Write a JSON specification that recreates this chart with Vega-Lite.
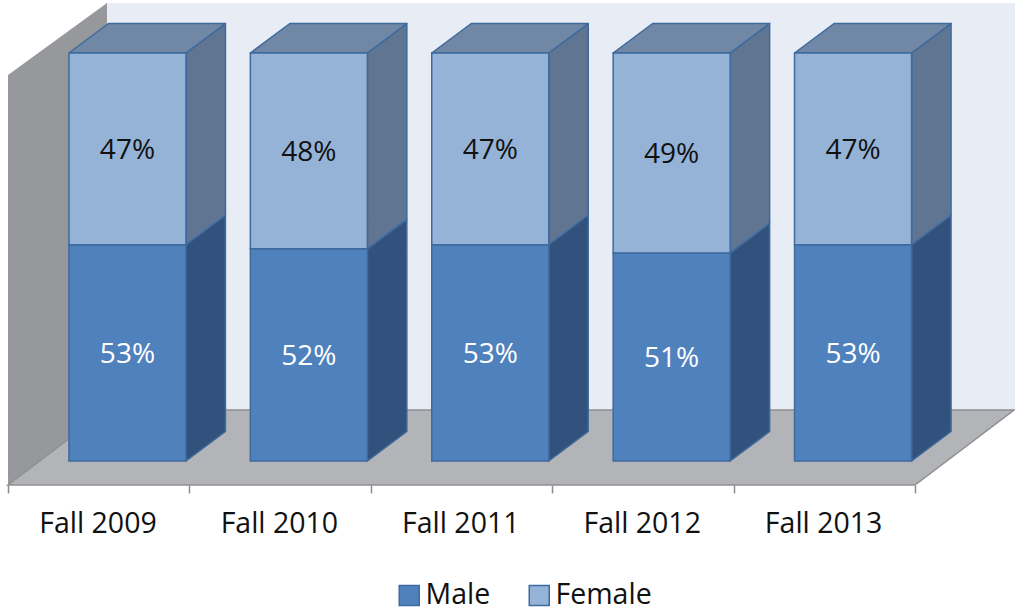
{
  "$schema": "https://vega.github.io/schema/vega-lite/v6.json",
  "width": 1015,
  "height": 485,
  "autosize": {"type": "none"},
  "padding": {"left": 0, "top": 0, "right": 0, "bottom": 126},
  "background": "white",
  "config": {"view": {"stroke": null}, "font": "Open Sans"},
  "data": {"values": [
    {"year": "Fall 2009", "sex": "Male", "pct": 53},
    {"year": "Fall 2009", "sex": "Female", "pct": 47},
    {"year": "Fall 2010", "sex": "Male", "pct": 52},
    {"year": "Fall 2010", "sex": "Female", "pct": 48},
    {"year": "Fall 2011", "sex": "Male", "pct": 53},
    {"year": "Fall 2011", "sex": "Female", "pct": 47},
    {"year": "Fall 2012", "sex": "Male", "pct": 51},
    {"year": "Fall 2012", "sex": "Female", "pct": 49},
    {"year": "Fall 2013", "sex": "Male", "pct": 53},
    {"year": "Fall 2013", "sex": "Female", "pct": 47}
  ]},
  "transform": [
    {"calculate": "indexof(['Fall 2009','Fall 2010','Fall 2011','Fall 2012','Fall 2013'], datum.year)", "as": "idx"},
    {"calculate": "datum.sex == 'Male' ? 0 : 1", "as": "ord"},
    {"stack": "pct", "groupby": ["year"], "sort": [{"field": "ord", "order": "ascending"}], "as": ["y0", "y1"]},
    {"calculate": "datum.year + '|' + datum.sex", "as": "seg"},
    {"calculate": "0", "as": "t0"},
    {"calculate": "1", "as": "t1"}
  ],
  "layer": [
    {
      "transform": [{"filter": "datum.idx == 0 && datum.ord == 0"}],
      "mark": {"type": "rect", "fill": "#E8ECF5"},
      "encoding": {
        "x": {"datum": 0.5457, "type": "quantitative", "title": null,
          "scale": {"domain": [-0.0441, 5.5513], "nice": false, "zero": false},
          "axis": {"values": [0, 1, 2, 3, 4, 5], "grid": false, "domain": false, "ticks": true,
            "tickColor": "#8C8C8C", "tickSize": 8, "tickWidth": 1.5,
            "labelExpr": "['Fall 2009','Fall 2010','Fall 2011','Fall 2012','Fall 2013',''][datum.value]",
            "labelOffset": 89.5, "labelFont": "Open Sans", "labelFontSize": 28.5, "labelColor": "#111111",
            "labelPadding": 16, "labelBaseline": "top", "labelAlign": "center",
            "labelFlush": false, "labelOverlap": false, "labelBound": false, "title": null}},
        "x2": {"datum": 5.56},
        "y": {"datum": 12.5, "type": "quantitative", "title": null, "axis": null,
          "scale": {"domain": [-5.88, 112.99], "nice": false, "zero": false}},
        "y2": {"datum": 112.25}
      }
    },
    {
      "transform": [
        {"filter": "datum.idx == 0 && datum.ord == 0"},
        {"fold": ["t0", "t1"], "as": ["k", "t"]},
        {"calculate": "datum.t * 0.5457", "as": "wx"},
        {"calculate": "-5.88 + datum.t * 18.38", "as": "wy"},
        {"calculate": "94.61 + datum.t * 17.64", "as": "wy2"}
      ],
      "mark": {"type": "area", "orient": "vertical", "fill": "#97989B"},
      "encoding": {
        "x": {"field": "wx", "type": "quantitative", "title": null},
        "y": {"field": "wy", "type": "quantitative", "title": null, "axis": null, "stack": null},
        "y2": {"field": "wy2"}
      }
    },
    {
      "transform": [
        {"filter": "datum.idx == 0 && datum.ord == 0"},
        {"fold": ["t0", "t1"], "as": ["k", "t"]},
        {"calculate": "datum.t * 0.5457", "as": "fx"},
        {"calculate": "5 + datum.t * 0.5457", "as": "fx2"},
        {"calculate": "-5.88 + datum.t * 18.38", "as": "fy"}
      ],
      "mark": {"type": "area", "orient": "horizontal", "fill": "#B2B4B7", "stroke": "#8D8F92", "strokeWidth": 1.5},
      "encoding": {
        "y": {"field": "fy", "type": "quantitative", "title": null, "axis": null},
        "x": {"field": "fx", "type": "quantitative", "title": null, "stack": null},
        "x2": {"field": "fx2"}
      }
    },
    {
      "transform": [
        {"fold": ["t0", "t1"], "as": ["k", "t"]},
        {"calculate": "datum.idx + 0.981 + datum.t * 0.2177", "as": "sx"},
        {"calculate": "datum.y0 + datum.t * 7.23", "as": "sy"},
        {"calculate": "datum.y1 + datum.t * 7.23", "as": "sy2"}
      ],
      "mark": {"type": "area", "orient": "vertical", "stroke": "#3E6A9E", "strokeWidth": 1.5, "strokeJoin": "round"},
      "encoding": {
        "x": {"field": "sx", "type": "quantitative", "title": null},
        "y": {"field": "sy", "type": "quantitative", "title": null, "axis": null, "stack": null},
        "y2": {"field": "sy2"},
        "detail": {"field": "seg", "type": "nominal"},
        "fill": {"condition": {"test": "datum.sex == 'Male'", "value": "#32527D"}, "value": "#5F7591"}
      }
    },
    {
      "transform": [
        {"filter": "datum.ord == 1"},
        {"fold": ["t0", "t1"], "as": ["k", "t"]},
        {"calculate": "datum.idx + 0.336 + datum.t * 0.2177", "as": "tx"},
        {"calculate": "datum.idx + 0.981 + datum.t * 0.2177", "as": "tx2"},
        {"calculate": "datum.y1 + datum.t * 7.23", "as": "ty"}
      ],
      "mark": {"type": "area", "orient": "horizontal", "fill": "#7087A5", "stroke": "#3E6A9E", "strokeWidth": 1.5, "strokeJoin": "round"},
      "encoding": {
        "y": {"field": "ty", "type": "quantitative", "title": null, "axis": null},
        "x": {"field": "tx", "type": "quantitative", "title": null, "stack": null},
        "x2": {"field": "tx2"},
        "detail": {"field": "year", "type": "nominal"}
      }
    },
    {
      "transform": [
        {"calculate": "datum.idx + 0.336", "as": "bx"},
        {"calculate": "datum.idx + 0.981", "as": "bx2"}
      ],
      "mark": {"type": "rect", "stroke": "#3E6A9E", "strokeWidth": 1.5},
      "encoding": {
        "x": {"field": "bx", "type": "quantitative", "title": null},
        "x2": {"field": "bx2"},
        "y": {"field": "y0", "type": "quantitative", "title": null, "axis": null},
        "y2": {"field": "y1"},
        "color": {"field": "sex", "type": "nominal", "title": null,
          "scale": {"domain": ["Male", "Female"], "range": ["#4F81BD", "#95B3D7"]},
          "legend": {"orient": "none", "legendX": 395, "legendY": 581, "direction": "horizontal",
            "title": null, "symbolType": "square", "symbolSize": 400,
            "symbolStrokeColor": "#3E6A9E", "symbolStrokeWidth": 1.5,
            "labelFont": "Open Sans", "labelFontSize": 28.5, "labelColor": "#111111",
            "labelOffset": 2, "columnPadding": 34, "padding": 0}}
      }
    },
    {
      "transform": [
        {"calculate": "datum.idx + 0.6585", "as": "cx"},
        {"calculate": "(datum.y0 + datum.y1) / 2", "as": "cy"},
        {"calculate": "datum.pct + '%'", "as": "lbl"}
      ],
      "mark": {"type": "text", "font": "Open Sans", "fontSize": 28, "align": "center", "baseline": "middle", "dy": 2},
      "encoding": {
        "x": {"field": "cx", "type": "quantitative", "title": null},
        "y": {"field": "cy", "type": "quantitative", "title": null, "axis": null},
        "text": {"field": "lbl"},
        "fill": {"condition": {"test": "datum.sex == 'Male'", "value": "#FFFFFF"}, "value": "#111111"}
      }
    }
  ]
}
